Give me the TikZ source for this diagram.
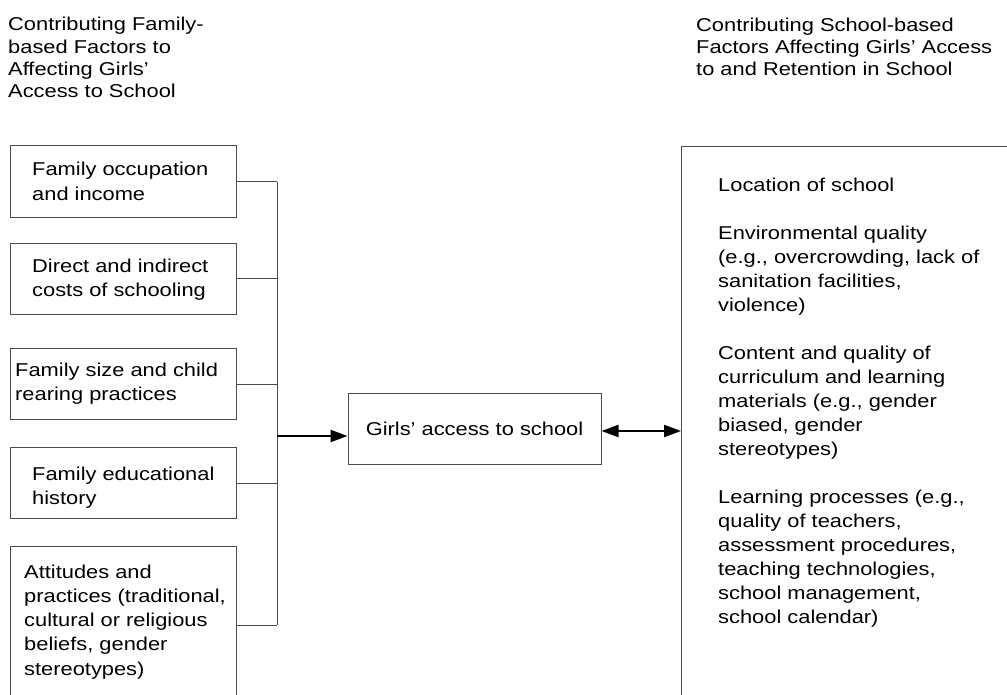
\documentclass[tikz,border=0pt]{standalone}
\usepackage{fontspec}
\setmainfont{Liberation Sans}[FakeStretch=1.175]
\usetikzlibrary{arrows.meta}
\begin{document}
\begin{tikzpicture}[x=1pt,y=-1pt,
  box/.style={draw=black!70,line width=1pt,rectangle,inner sep=0pt,anchor=north west},
  txt/.style={inner sep=0pt,anchor=base west,align=left,font=\fontsize{18.6}{24.3}\selectfont},
  rtxt/.style={inner sep=0pt,anchor=base west,align=left,font=\fontsize{18.6}{24}\selectfont},
  head/.style={inner sep=0pt,anchor=base west,align=left,font=\fontsize{18.6}{22.3}\selectfont},
  wire/.style={draw=black!70,line width=1pt},
  arr/.style={line width=2.2pt,-{Triangle[length=17pt,width=12pt]}},
  darr/.style={line width=2.2pt,{Triangle[length=17pt,width=12pt]}-{Triangle[length=17pt,width=12pt]}}]
\useasboundingbox (0,0) rectangle (1007,695);
\clip (0,0) rectangle (1007,695);
\fill[white] (0,0) rectangle (1007,695);

% headers (anchored at the baseline of the last line)
\node[head] (hl) at (8,97.9) {Contributing Family-\\based Factors to\\Affecting Girls’\\Access to School};
\node[head] (hr) at (696,76) {Contributing School-based\\Factors Affecting Girls’ Access\\to and Retention in School};

% left boxes
\node[box,minimum width=226pt,minimum height=72pt] (b1) at (10,145) {};
\node[box,minimum width=226pt,minimum height=71pt] (b2) at (10,243) {};
\node[box,minimum width=226pt,minimum height=71pt] (b3) at (10,348) {};
\node[box,minimum width=226pt,minimum height=71pt] (b4) at (10,447) {};
\node[box,minimum width=226pt,minimum height=158pt] (b5) at (10,546) {};

\node[txt] (t1) at (32,200.3) {Family occupation\\and income};
\node[txt] (t2) at (32,296.3) {Direct and indirect\\costs of schooling};
\node[txt] (t3) at (15,400.3) {Family size and child\\rearing practices};
\node[txt] (t4) at (32,504.3) {Family educational\\history};
\node[txt] (t5) at (24,675.2) {Attitudes and\\practices (traditional,\\cultural or religious\\beliefs, gender\\stereotypes)};

% bus
\coordinate (bustop) at (277,182);
\coordinate (busbot) at (277,625);
\coordinate (busout) at (277,436);
\draw[wire] (bustop) -- (busbot);
\draw[wire] (b1.east) -- (b1.east -| bustop);
\draw[wire] (b2.east) -- (b2.east -| bustop);
\draw[wire] (b3.east) -- (b3.east -| bustop);
\draw[wire] (b4.east) -- (b4.east -| bustop);
\draw[wire] (b5.east) -- (b5.east -| bustop);

% centre box
\node[box,minimum width=253pt,minimum height=71pt,font=\fontsize{18.6}{24.3}\selectfont,anchor=center] (c) at (474.5,428.5) {Girls’ access to school};

% right box
\node[box,minimum width=340pt,minimum height=570pt] (r) at (681,146) {};
\node[rtxt] (rt) at (718,623) {Location of school\\[24pt]
Environmental quality\\(e.g., overcrowding, lack of\\sanitation facilities,\\violence)\\[24pt]
Content and quality of\\curriculum and learning\\materials (e.g., gender\\biased, gender\\stereotypes)\\[24pt]
Learning processes (e.g.,\\quality of teachers,\\assessment procedures,\\teaching technologies,\\school management,\\school calendar)};

% arrows
\draw[arr] (busout) -- (busout -| c.west);
\coordinate (dy) at (640,431);
\draw[darr] (dy -| c.east) -- (dy -| r.west);
\end{tikzpicture}
\end{document}
